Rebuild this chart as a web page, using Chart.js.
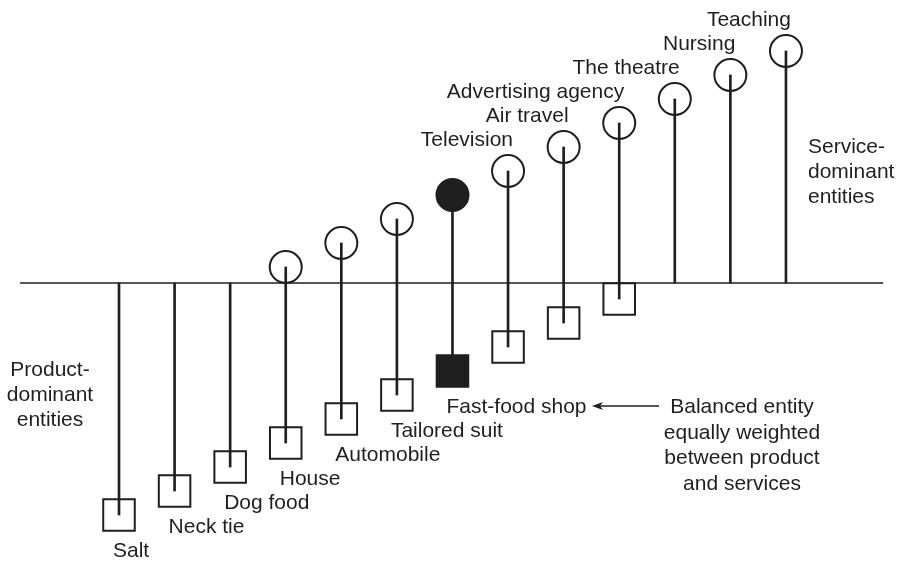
<!DOCTYPE html>
<html>
<head>
<meta charset="utf-8">
<script src="https://cdn.jsdelivr.net/npm/chart.js@4/dist/chart.umd.min.js"></script>
<style>
	html, body { margin: 0; padding: 0; background: #fff; }
	#wrap { width: 903px; height: 561px; }
</style>
</head>
<body>
<div id="wrap"><canvas id="scale" width="903" height="561"></canvas></div>
<script>
// entities, left (product) to right (service)
const entities = ["Salt", "Neck tie", "Dog food", "House", "Automobile", "Tailored suit", "Fast-food shop",
	"Television", "Air travel", "Advertising agency", "The theatre", "Nursing", "Teaching"];
// tangible (product) weight, drawn below the line; null = none
const productWeight = [-29, -26, -23, -20, -17, -14, -11, -8, -5, -2, null, null, null];
// intangible (service) weight, drawn above the line
const serviceWeight = [null, null, null, 2, 5, 8, 11, 14, 17, 20, 23, 26, 29];
const balancedIndex = 6;
const productSide = ["Product-", "dominant", "entities"];
const serviceSide = ["Service-", "dominant", "entities"];
const balancedNote = ["Balanced entity", "equally weighted", "between product", "and services"];
const lineSpan = [-1.78, 13.75];

const ink = '#1f1f1f';
const font = '21px "Liberation Sans", Arial, sans-serif';

const stems = entities.map((name, i) => ({
	x: i,
	y: [productWeight[i] ?? 0, serviceWeight[i] ?? 0]
}));
const squares = entities.map((name, i) => ({ x: i, y: productWeight[i] })).filter(p => p.y !== null);
const circles = entities.map((name, i) => ({ x: i, y: serviceWeight[i] })).filter(p => p.y !== null);

const fillFor = list => list.map(p => p.x === balancedIndex ? ink : 'rgba(0,0,0,0)');

const scalePlugin = {
	id: 'scaleDecor',
	beforeDatasetsDraw(chart) {
		const { ctx, scales: { x, y } } = chart;
		ctx.save();
		ctx.strokeStyle = ink;
		ctx.lineWidth = 1.7;
		ctx.beginPath();
		ctx.moveTo(x.getPixelForValue(lineSpan[0]), y.getPixelForValue(0));
		ctx.lineTo(x.getPixelForValue(lineSpan[1]), y.getPixelForValue(0));
		ctx.stroke();
		ctx.restore();
	},
	afterDatasetsDraw(chart) {
		const { ctx, scales: { x, y } } = chart;
		ctx.save();
		ctx.fillStyle = ink;
		ctx.font = font;
		ctx.textBaseline = 'alphabetic';

		entities.forEach((name, i) => {
			const px = x.getPixelForValue(i);
			if (i <= balancedIndex) {
				ctx.textAlign = 'left';
				ctx.fillText(name, px - 6, y.getPixelForValue(productWeight[i]) + 42);
			} else {
				ctx.textAlign = 'right';
				ctx.fillText(name, px + 5, y.getPixelForValue(serviceWeight[i]) - 25);
			}
		});

		// side labels
		ctx.textAlign = 'center';
		productSide.forEach((t, k) => ctx.fillText(t, 50, 376 + k * 25));
		ctx.textAlign = 'left';
		serviceSide.forEach((t, k) => ctx.fillText(t, 808, 153 + k * 25));

		// balanced entity note and arrow
		ctx.textAlign = 'center';
		balancedNote.forEach((t, k) => ctx.fillText(t, 742, 413 + k * 25.7));

		const ay = 406, ax0 = 659, ax1 = 592;
		ctx.strokeStyle = ink;
		ctx.lineWidth = 1.5;
		ctx.beginPath();
		ctx.moveTo(ax0, ay);
		ctx.lineTo(ax1 + 6, ay);
		ctx.stroke();
		ctx.beginPath();
		ctx.moveTo(ax1, ay);
		ctx.lineTo(ax1 + 11, ay - 4);
		ctx.lineTo(ax1 + 8, ay);
		ctx.lineTo(ax1 + 11, ay + 4);
		ctx.closePath();
		ctx.fill();
		ctx.restore();
	}
};

new Chart(document.getElementById('scale'), {
	type: 'scatter',
	data: {
		datasets: [
			{
				type: 'bar',
				data: stems,
				backgroundColor: ink,
				borderWidth: 0,
				barThickness: 2,
				order: 3
			},
			{
				data: squares,
				pointStyle: 'rect',
				pointRadius: 22.3,
				borderColor: ink,
				borderWidth: 2,
				backgroundColor: fillFor(squares),
				clip: false,
				order: 1
			},
			{
				data: circles,
				pointStyle: 'circle',
				pointRadius: 16,
				borderColor: ink,
				borderWidth: 2,
				backgroundColor: fillFor(circles),
				clip: false,
				order: 2
			}
		]
	},
	options: {
		responsive: false,
		animation: false,
		devicePixelRatio: 1,
		layout: { padding: 0, autoPadding: false },
		plugins: {
			legend: { display: false },
			tooltip: { enabled: false }
		},
		scales: {
			x: { type: 'linear', display: false, offset: false, min: -2.141, max: 14.106 },
			y: { type: 'linear', display: false, min: -34.75, max: 35.375 }
		}
	},
	plugins: [scalePlugin]
});
</script>
</body>
</html>
